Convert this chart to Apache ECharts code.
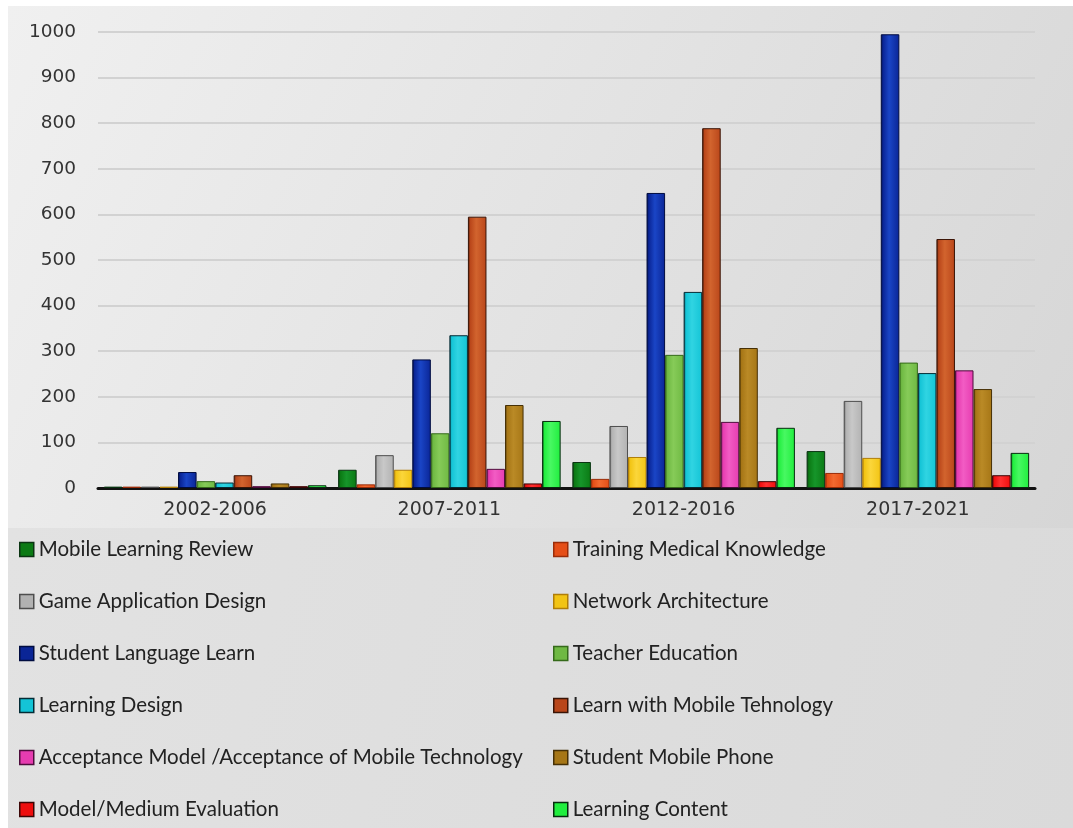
<!DOCTYPE html>
<html>
<head>
<meta charset="utf-8">
<script src="https://cdn.jsdelivr.net/npm/echarts@6/dist/echarts.min.js"></script>
<style>
  html, body { margin: 0; padding: 0; background: #ffffff; }
  #chart { width: 1073px; height: 828px; }
</style>
</head>
<body>
<div id="chart"></div>
<script>
// Periods on the category axis
const periods = ['2002-2006', '2007-2011', '2012-2016', '2017-2021'];

// Number of studies per research theme, one value per period
const mobileLearningReview   = [3, 40, 57, 81];
const trainingMedical        = [3, 8, 20, 33];
const gameApplicationDesign  = [3, 72, 136, 191];
const networkArchitecture    = [3, 40, 68, 66];
const studentLanguageLearn   = [35, 282, 647, 995];
const teacherEducation       = [15, 120, 292, 275];
const learningDesign         = [12, 335, 430, 252];
const learnWithMobileTech    = [28, 595, 789, 546];
const acceptanceModel        = [4, 42, 145, 258];
const studentMobilePhone     = [10, 182, 307, 217];
const modelMediumEvaluation  = [4, 10, 15, 28];
const learningContent        = [6, 147, 132, 77];

// Y axis ticks
const yTicks = { min: 0, max: 1000, step: 100 };

const themes = [
  { name: 'Mobile Learning Review', data: mobileLearningReview, color: '#0b7a14', light: '#16952a', edge: '#0a3412' },
  { name: 'Training Medical Knowledge', data: trainingMedical, color: '#e54e17', light: '#f26a30', edge: '#9a2c08' },
  { name: 'Game Application Design', data: gameApplicationDesign, color: '#b2b2b2', light: '#c8c8c8', edge: '#4e4e4e' },
  { name: 'Network Architecture', data: networkArchitecture, color: '#f2c414', light: '#fbd63a', edge: '#b07e08' },
  { name: 'Student Language Learn', data: studentLanguageLearn, color: '#0a2596', light: '#1a45c6', edge: '#000c40' },
  { name: 'Teacher Education', data: teacherEducation, color: '#6fb943', light: '#86cb58', edge: '#356a1a' },
  { name: 'Learning Design', data: learningDesign, color: '#14c4d6', light: '#30d4e2', edge: '#042c36' },
  { name: 'Learn with Mobile Tehnology', data: learnWithMobileTech, color: '#b9461a', light: '#d2642e', edge: '#3a1406' },
  { name: 'Acceptance Model /Acceptance of Mobile Technology', data: acceptanceModel, color: '#e63cb0', light: '#f25cc4', edge: '#4e0c3c' },
  { name: 'Student Mobile Phone', data: studentMobilePhone, color: '#a67616', light: '#ba8a26', edge: '#463006' },
  { name: 'Model/Medium Evaluation', data: modelMediumEvaluation, color: '#ee0e0e', light: '#ff3030', edge: '#3c0606' },
  { name: 'Learning Content', data: learningContent, color: '#20ee3e', light: '#48f862', edge: '#062c0e' }
];

const series = themes.map(t => ({
  name: t.name,
  type: 'bar',
  data: t.data,
  barGap: '0%',
  barCategoryGap: '5%',
  itemStyle: {
    color: new echarts.graphic.LinearGradient(0, 0, 1, 0, [
      { offset: 0, color: t.edge },
      { offset: 0.12, color: t.color },
      { offset: 0.45, color: t.light },
      { offset: 1, color: t.color }
    ]),
    borderColor: t.edge,
    borderWidth: 1
  }
}));

function legendItems(list) {
  return list.map(t => ({
    name: t.name,
    itemStyle: { color: t.color, borderColor: t.edge, borderWidth: 1.5 }
  }));
}

const legendBase = {
  orient: 'vertical',
  top: 539,
  height: 290,
  padding: 0,
  itemWidth: 14,
  itemHeight: 14,
  itemGap: 31,
  icon: 'rect',
  selectedMode: false,
  textStyle: { fontFamily: 'Lato', fontSize: 20.5, color: '#222222', lineHeight: 20 }
};

const chart = echarts.init(document.getElementById('chart'), null, { renderer: 'canvas' });

chart.setOption({
  animation: false,
  backgroundColor: '#ffffff',
  graphic: [
    {
      type: 'rect', z: -100, silent: true,
      shape: { x: 8, y: 6, width: 1065, height: 522 },
      style: {
        fill: new echarts.graphic.LinearGradient(0, 0, 1, 1, [
          { offset: 0, color: '#f0f0f0' },
          { offset: 1, color: '#d6d6d6' }
        ])
      }
    },
    {
      type: 'rect', z: -100, silent: true,
      shape: { x: 8, y: 528, width: 1065, height: 300 },
      style: {
        fill: new echarts.graphic.LinearGradient(0, 0, 1, 1, [
          { offset: 0, color: '#e2e2e2' },
          { offset: 1, color: '#dadada' }
        ])
      }
    }
  ],
  grid: { left: 98, right: 38, top: 32, bottom: 340 },
  legend: [
    Object.assign({}, legendBase, { left: 19, data: legendItems(themes.filter((_, i) => i % 2 === 0)) }),
    Object.assign({}, legendBase, { left: 553, data: legendItems(themes.filter((_, i) => i % 2 === 1)) })
  ],
  xAxis: {
    type: 'category',
    data: periods,
    axisLine: { show: true, lineStyle: { color: '#111111', width: 3 } },
    axisTick: { show: false },
    axisLabel: { fontFamily: 'DejaVu Sans', fontSize: 19, color: '#333333', margin: 13 }
  },
  yAxis: {
    type: 'value',
    min: yTicks.min,
    max: yTicks.max,
    interval: yTicks.step,
    axisLine: { show: false },
    axisTick: { show: false },
    axisLabel: {
      fontFamily: 'DejaVu Sans', fontSize: 18.5, color: '#333333', margin: 22,
      formatter: v => String(v)
    },
    splitLine: { show: true, lineStyle: { color: '#d2d2d2', width: 2 } }
  },
  series: series
});
</script>
</body>
</html>
